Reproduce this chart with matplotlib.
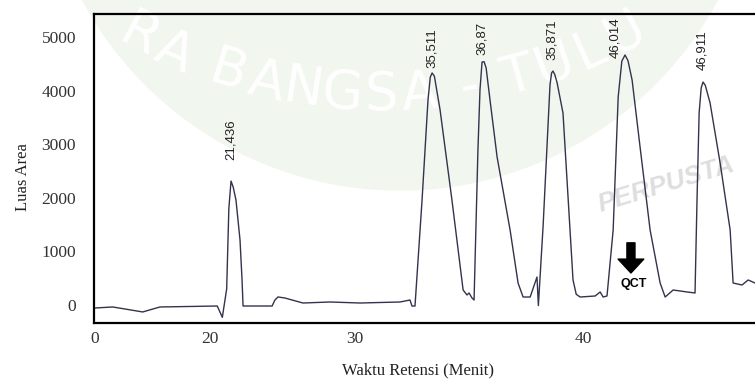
import numpy as np
import matplotlib
matplotlib.use('Agg')
import matplotlib.pyplot as plt
from matplotlib.patches import Ellipse

# Kromatogram (waktu retensi dalam menit, luas area)
waktu = [0.0, 3.1, 8.3, 11.3, 20.5, 20.85, 21.15, 21.3, 21.45, 21.6, 21.79, 22.07,
         22.21, 22.28, 24.28, 24.48, 24.69, 25.17, 26.41, 28.28, 30.22, 31.97, 32.41,
         32.5, 32.63, 32.94, 33.2, 33.3, 33.38, 33.48, 33.73, 34.25, 34.74, 34.91,
         35.0, 35.13, 35.22, 35.39, 35.48, 35.57, 35.66, 35.75, 35.92, 36.23, 36.8,
         37.15, 37.37, 37.68, 37.89, 37.98, 38.04, 38.25, 38.55, 38.62, 38.68, 38.76,
         38.86, 39.12, 39.56, 39.7, 39.87, 40.53, 40.75, 40.88, 41.05, 41.32, 41.54,
         41.7, 41.84, 41.97, 42.15, 42.5, 42.94, 43.38, 43.6, 43.95, 44.56, 44.91,
         45.0, 45.09, 45.18, 45.26, 45.36, 45.57, 46.01, 46.45, 46.58, 46.97, 47.24,
         47.54]
luas = [-56, -37, -130, -37, -19, -230, 300, 1800, 2313, 2200, 1960, 1213,
        467, -19, -19, 93, 150, 130, 37, 56, 37, 56, 93,
        -20, -19, 1960, 3825, 4250, 4330, 4270, 3640, 1960, 280, 187,
        224, 131, 93, 2892, 4012, 4534, 4540, 4422, 3825, 2762, 1400,
        410, 149, 149, 410, 522, -10, 1490, 4105, 4330, 4366, 4300,
        4150, 3583, 467, 200, 149, 168, 243, 149, 168, 1400, 3880,
        4550, 4665, 4560, 4200, 2948, 1400, 410, 149, 280, 243, 224,
        2015, 3583, 4050, 4161, 4100, 3770, 2650, 1400, 410, 373, 467,
        410]

puncak_waktu = [21.45, 33.38, 35.57, 38.64, 41.4, 45.22]
puncak_y = [2706, 4422, 4665, 4572, 4609, 4385]
puncak_label = ['21,436', '35,511', '36,87', '35,871', '46,014', '46,911']

xticks = [0, 20, 30, 40]
yticks = [0, 1000, 2000, 3000, 4000, 5000]

# sumbu x pada gambar asli tidak linear
x_data = [-5, 0, 20, 30, 40, 60]
x_pos = [-28.75, 0, 115, 260, 488, 944]


def maju(x):
    return np.interp(x, x_data, x_pos)


def balik(p):
    return np.interp(p, x_pos, x_data)


fig = plt.figure(figsize=(7.55, 3.85), dpi=100)

# watermark
fig.patches.append(Ellipse((400 / 755, 555 / 385), 720 / 755, 720 / 385,
                           transform=fig.transFigure, color='#f1f6ef', zorder=0))
teks_wm = 'RA BANGSA - TULU'
lebar = [0.5 if c == ' ' else (0.6 if c == '-' else 1.0) for c in teks_wm]
pos = np.cumsum(lebar) - np.array(lebar) / 2
sudut = -27.8 + (pos - pos[0]) / (pos[-1] - pos[0]) * 56.2
for c, s in zip(teks_wm, sudut):
    r = np.radians(s)
    fx = (380 + 515 * np.sin(r)) / 755
    fy = (805 - 515 * np.cos(r)) / 385
    fig.text(fx, fy, c, rotation=s, ha='center', va='center', fontsize=38,
             color='white', family='DejaVu Sans', zorder=0.5)
fig.text(598 / 755, 1 - 205 / 385, 'PERPUSTA', rotation=17, rotation_mode='anchor',
         ha='left', va='center', fontsize=19, fontweight='bold', fontstyle='italic',
         color='#dedede', family='Liberation Sans', zorder=0.5)

ax = fig.add_axes([94 / 755, 62 / 385, 661 / 755, 309 / 385])
ax.set_zorder(2)
ax.set_facecolor('none')
ax.set_xscale('function', functions=(maju, balik))

ax.plot(waktu, luas, color='#33334d', lw=1.0)

for xv, yv, lab in zip(puncak_waktu, puncak_y, puncak_label):
    ax.text(xv, yv, lab, rotation=90, ha='center', va='bottom', fontsize=9.5,
            family='Liberation Sans', color='#222222')

ax.annotate('', xy=(42.1, 597), xytext=(42.1, 1160),
            arrowprops=dict(width=5.8, headwidth=18.5, headlength=10, color='black', shrink=0))
ax.text(42.2, 390, 'QCT', ha='center', va='center', fontsize=9, fontweight='bold',
        family='Liberation Sans')

ax.set_xlim(-0.17, 47.54)
ax.set_ylim(-336, 5430)
ax.set_xticks(xticks)
ax.set_xticklabels([str(t) for t in xticks])
ax.set_yticks(yticks)
ax.tick_params(length=0, labelsize=12.5, labelcolor='#333333')
ax.tick_params(axis='x', pad=6)
ax.tick_params(axis='y', pad=13)
for lab in ax.get_xticklabels() + ax.get_yticklabels():
    lab.set_family('Liberation Serif')

for s in ['top', 'bottom', 'left']:
    ax.spines[s].set_linewidth(1.6)
ax.spines['right'].set_visible(False)

fig.text(23 / 755, 1 - 177 / 385, 'Luas Area', rotation=90, ha='center', va='center',
         fontsize=12, family='Liberation Serif', color='#222222')
fig.text(418 / 755, 1 - 370 / 385, 'Waktu Retensi (Menit)', ha='center', va='center',
         fontsize=12, family='Liberation Serif', color='#222222')

fig.savefig('out.png', dpi=100)
